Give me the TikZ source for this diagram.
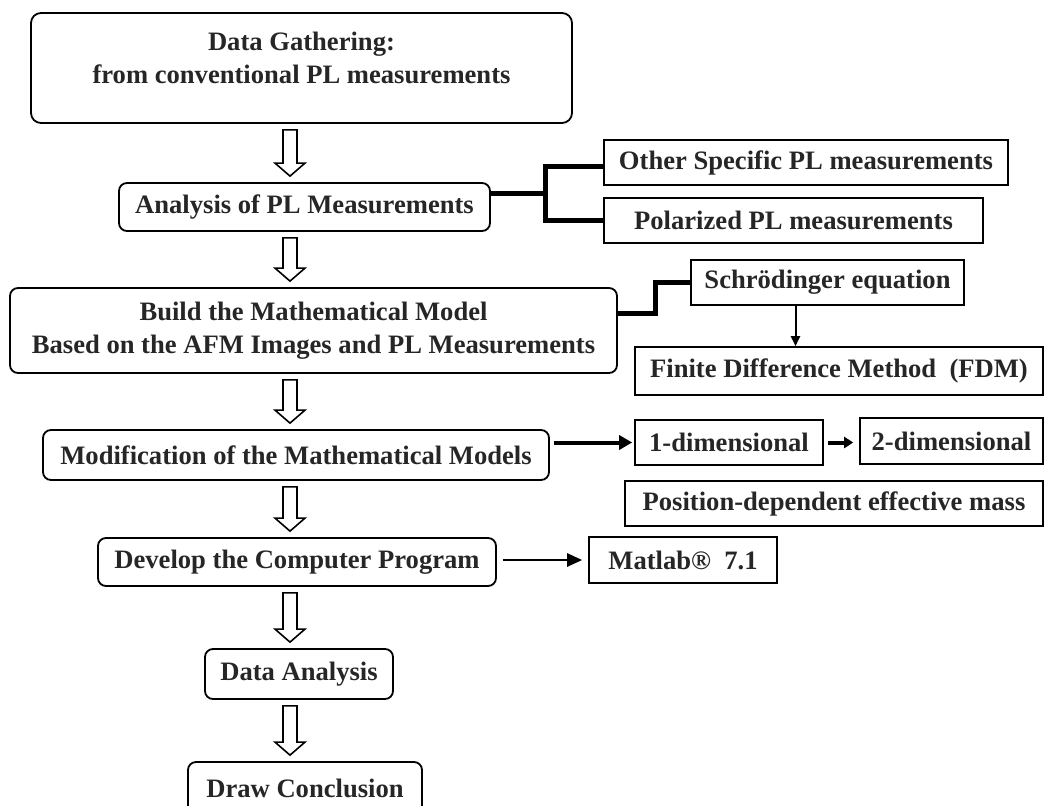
\documentclass[tikz,border=0pt]{standalone}
\usepackage{fontspec}
\setmainfont{Liberation Serif}
\usetikzlibrary{arrows.meta,calc}

\tikzset{
	every node/.style={font=\fontsize{13.3}{16.5}\selectfont\bfseries, text=black!85},
	stage/.style={draw, rounded corners=4pt, line width=0.9pt, inner sep=0pt, align=center},
	option/.style={draw, line width=0.8pt, inner sep=0pt},
	hollow/.style={draw, line width=0.8pt, fill=white, line join=miter},
	bracket/.style={line width=2.5pt},
	feed/.style={line width=2pt, -{Triangle[length=6.5pt,width=7pt]}, shorten <=2pt, shorten >=1pt},
}

% open block arrow between two stages
\newcommand{\blockdown}[2]{%
	\draw[hollow] let \p1=(#1.south -| spine), \p2=(#2.north -| spine) in
		(\x1-3.5pt,\y1-3pt) -- (\x1+3.5pt,\y1-3pt) -- (\x1+3.5pt,\y2+9.5pt) -- (\x1+7.5pt,\y2+9.5pt)
		-- (\x1,\y2+3pt) -- (\x1-7.5pt,\y2+9.5pt) -- (\x1-3.5pt,\y2+9.5pt) -- cycle;}

\begin{document}
\begin{tikzpicture}[x=0.5pt, y=-0.5pt]
	% page frame
	\useasboundingbox (0,0) rectangle (1045,805);
	\coordinate (spine) at (290,0);

	% main stages
	\node[stage, minimum width=270.5pt, minimum height=55pt, rounded corners=5pt, text depth=10pt] (gather) at (301.5,68) {Data Gathering:\\from conventional PL measurements};
	\node[stage, minimum width=185.5pt, minimum height=24pt] (analysis) at (304.5,207) {Analysis of PL Measurements};
	\node[stage, minimum width=303.5pt, minimum height=42.5pt] (build) at (313.5,330.5) {Build the Mathematical Model\\Based on the AFM Images and PL Measurements};
	\node[stage, minimum width=253pt, minimum height=25pt] (modif) at (296,455) {Modification of the Mathematical Models};
	\node[stage, minimum width=199pt, minimum height=24pt] (develop) at (297,562) {Develop the Computer Program};
	\node[stage, minimum width=94pt, minimum height=25pt] (dataan) at (299,674) {Data Analysis};
	\node[stage, minimum width=117pt, minimum height=26pt] (concl) at (305,788) {Draw Conclusion};

	% side boxes
	\node[option, minimum width=202pt, minimum height=22.5pt] (other) at (806,162.5) {Other Specific PL measurements};
	\node[option, minimum width=189.5pt, minimum height=22.5pt] (polar) at (793.5,220.5) {Polarized PL measurements};
	\node[option, minimum width=136.5pt, minimum height=22.5pt] (schro) at (827.5,282.5) {Schrödinger equation};
	\node[option, minimum width=204pt, minimum height=24pt] (fdm) at (839,371) {Finite Difference Method\ \ (FDM)};
	\node[option, minimum width=94pt, minimum height=22.5pt] (onedim) at (729,442.5) {1-dimensional};
	\node[option, minimum width=91.5pt, minimum height=23pt] (twodim) at (951.5,441) {2-dimensional};
	\node[option, minimum width=209pt, minimum height=22.5pt] (posmass) at (834,503.5) {Position-dependent effective mass};
	\node[option, minimum width=94pt, minimum height=23pt] (matlab) at (683,560) {Matlab®\ \ 7.1};

	% open arrows down the flow
	\blockdown{gather}{analysis}
	\blockdown{analysis}{build}
	\blockdown{build}{modif}
	\blockdown{modif}{develop}
	\blockdown{develop}{dataan}
	\blockdown{dataan}{concl}

	% brackets
	\coordinate (fork) at (545,193);
	\draw[bracket] ([yshift=7pt]analysis.east) -- (fork);
	\draw[bracket] ([yshift=-2pt]other.west) -| (fork) |- (polar.west);
	\draw[bracket] ([yshift=8.75pt]build.east) -- ++(19pt,0) |- (schro.west);

	% arrows
	\draw[line width=1pt, -{Triangle[length=5pt,width=4.5pt]}] ([xshift=-16pt]schro.south) -- ([xshift=-16pt]schro.south |- fdm.north);
	\draw[feed] (modif.east |- onedim.west) -- (onedim.west);
	\draw[line width=2pt, -{Triangle[length=4.5pt,width=5.5pt]}, shorten <=2pt, shorten >=3pt] (onedim.east) -- (twodim.west |- onedim.east);
	\draw[line width=1.3pt, -{Triangle[length=7.5pt,width=6.5pt]}, shorten <=3pt, shorten >=3pt] (develop.east |- matlab.west) -- (matlab.west);
\end{tikzpicture}
\end{document}
